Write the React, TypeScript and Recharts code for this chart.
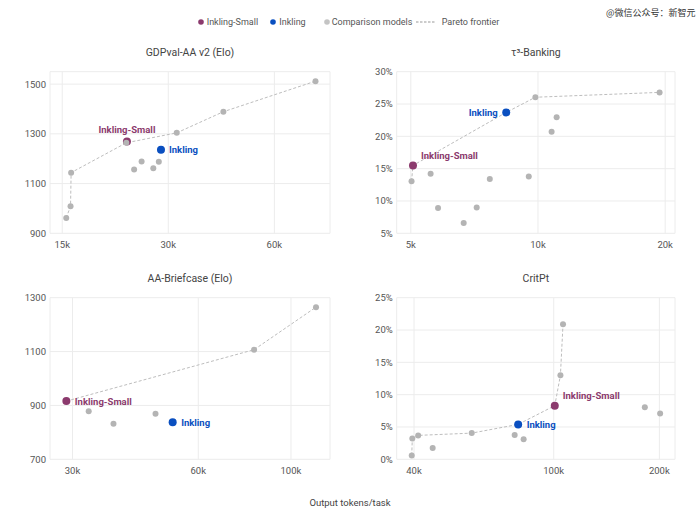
import React from 'react';
import { ScatterChart, Scatter, XAxis, YAxis, CartesianGrid } from 'recharts';

const FONT = 'Roboto, "Noto Sans", sans-serif';
const C_SMALL = '#8b3a6d';
const C_INK = '#0a4fc0';
const C_GRAY = '#b4b4b4';
const C_FRONT = '#bdbdbd';
const C_TEXT = '#555555';
const C_GRID = '#ececec';

// ---- GDPval-AA v2 (Elo)
const gdpSmall = [{ x: 22900, y: 1269 }];
const gdpInkling = [{ x: 28600, y: 1236 }];
const gdpOthers = [
  { x: 15400, y: 962 },
  { x: 15840, y: 1009 },
  { x: 15900, y: 1144 },
  { x: 22800, y: 1264 },
  { x: 24000, y: 1157 },
  { x: 25200, y: 1189 },
  { x: 27200, y: 1162 },
  { x: 28200, y: 1188 },
  { x: 31700, y: 1304 },
  { x: 43000, y: 1389 },
  { x: 78500, y: 1512 },
];
const gdpFrontier = [
  { x: 15400, y: 962 },
  { x: 15840, y: 1009 },
  { x: 15900, y: 1144 },
  { x: 22800, y: 1264 },
  { x: 31700, y: 1304 },
  { x: 43000, y: 1389 },
  { x: 78500, y: 1512 },
];
const gdpXTicks = [15000, 30000, 60000];
const gdpYTicks = [900, 1100, 1300, 1500];

// ---- τ³-Banking (%)
const bankSmall = [{ x: 5060, y: 15.5 }];
const bankInkling = [{ x: 8410, y: 23.7 }];
const bankOthers = [
  { x: 5020, y: 13.05 },
  { x: 5570, y: 14.2 },
  { x: 5800, y: 8.9 },
  { x: 6670, y: 6.6 },
  { x: 7160, y: 9.0 },
  { x: 7690, y: 13.4 },
  { x: 9510, y: 13.8 },
  { x: 9860, y: 26.05 },
  { x: 10770, y: 20.7 },
  { x: 11070, y: 22.95 },
  { x: 19400, y: 26.8 },
];
const bankFrontier = [
  { x: 5020, y: 13.05 },
  { x: 5060, y: 15.5 },
  { x: 8410, y: 23.7 },
  { x: 9860, y: 26.05 },
  { x: 19400, y: 26.8 },
];
const bankXTicks = [5000, 10000, 20000];
const bankYTicks = [5, 10, 15, 20, 25, 30];

// ---- AA-Briefcase (Elo)
const briefSmall = [{ x: 29000, y: 916 }];
const briefInkling = [{ x: 52100, y: 838 }];
const briefOthers = [
  { x: 32800, y: 878 },
  { x: 37600, y: 832 },
  { x: 47400, y: 869 },
  { x: 81600, y: 1107 },
  { x: 114800, y: 1265 },
];
const briefFrontier = [
  { x: 29000, y: 916 },
  { x: 81600, y: 1107 },
  { x: 114800, y: 1265 },
];
const briefXTicks = [30000, 60000, 100000];
const briefYTicks = [700, 900, 1100, 1300];

// ---- CritPt (%)
const critSmall = [{ x: 100700, y: 8.3 }];
const critInkling = [{ x: 79200, y: 5.4 }];
const critOthers = [
  { x: 39400, y: 0.6 },
  { x: 39550, y: 3.2 },
  { x: 41100, y: 3.7 },
  { x: 45200, y: 1.75 },
  { x: 58400, y: 4.05 },
  { x: 77400, y: 3.75 },
  { x: 82100, y: 3.1 },
  { x: 104500, y: 13.0 },
  { x: 106300, y: 20.9 },
  { x: 181800, y: 8.05 },
  { x: 201000, y: 7.1 },
];
const critFrontier = [
  { x: 39400, y: 0.6 },
  { x: 39550, y: 3.2 },
  { x: 41100, y: 3.7 },
  { x: 58400, y: 4.05 },
  { x: 79200, y: 5.4 },
  { x: 100700, y: 8.3 },
  { x: 104500, y: 13.0 },
  { x: 106300, y: 20.9 },
];
const critXTicks = [40000, 100000, 200000];
const critYTicks = [0, 5, 10, 15, 20, 25];

// ---- legend
const legendLabels = ['Inkling-Small', 'Inkling', 'Comparison models', 'Pareto frontier'];

type Pt = { x: number; y: number };
type LabelCfg = { dx: number; dy: number; anchor: 'start' | 'middle' | 'end' };

const kFmt = (v: number) => `${Math.round(v / 1000)}k`;
const pctFmt = (v: number) => `${v}%`;
const numFmt = (v: number) => `${v}`;

const grayShape = (p: any) => <circle cx={p.cx} cy={p.cy} r={3} fill={C_GRAY} />;
const emptyShape = () => <g />;
const makeHighlight = (color: string, label: string, cfg: LabelCfg) => (p: any) => (
  <g>
    <circle cx={p.cx} cy={p.cy} r={4} fill={color} />
    <text
      x={p.cx + cfg.dx}
      y={p.cy + cfg.dy}
      textAnchor={cfg.anchor}
      dominantBaseline="central"
      fill={color}
      fontSize={9.5}
      fontWeight={700}
      fontFamily={FONT}
    >
      {label}
    </text>
  </g>
);

type PanelProps = {
  title: React.ReactNode;
  left: number;
  top: number;
  marginLeft: number;
  marginRight: number;
  xDomain: [number, number];
  yDomain: [number, number];
  xTicks: number[];
  yTicks: number[];
  yFmt: (v: number) => string;
  small: Pt[];
  inkling: Pt[];
  others: Pt[];
  frontier: Pt[];
  smallLabel: LabelCfg;
  inkLabel: LabelCfg;
};

function Panel(props: PanelProps) {
  const W = 350;
  const H = 200;
  const plotLeft = props.marginLeft + 40;
  const plotRight = W - props.marginRight;
  const tick = { fill: C_TEXT, fontSize: 9.5, fontFamily: FONT };
  return (
    <div style={{ position: 'absolute', left: props.left, top: props.top, width: W, height: H }}>
      <div
        style={{
          position: 'absolute',
          left: plotLeft,
          width: plotRight - plotLeft,
          top: -14,
          height: 14,
          lineHeight: '14px',
          textAlign: 'center',
          fontFamily: FONT,
          fontSize: 10.5,
          color: '#444',
        }}
      >
        {props.title}
      </div>
      <ScatterChart
        width={W}
        height={H}
        margin={{ top: 11.7, right: props.marginRight, bottom: 0, left: props.marginLeft }}
      >
        <CartesianGrid stroke={C_GRID} strokeWidth={1} />
        <XAxis
          type="number"
          dataKey="x"
          scale="log"
          domain={props.xDomain}
          ticks={props.xTicks}
          tickFormatter={kFmt}
          allowDataOverflow
          axisLine={false}
          tickLine={false}
          tickSize={6}
          tickMargin={2}
          height={26.7}
          tick={tick}
        />
        <YAxis
          type="number"
          dataKey="y"
          domain={props.yDomain}
          ticks={props.yTicks}
          tickFormatter={props.yFmt}
          allowDataOverflow
          axisLine={false}
          tickLine={false}
          tickSize={0}
          tickMargin={4}
          width={40}
          tick={tick}
        />
        <Scatter
          data={props.frontier}
          shape={emptyShape}
          line={{ stroke: C_FRONT, strokeDasharray: '3 2', strokeWidth: 1 }}
          isAnimationActive={false}
        />
        <Scatter
          data={props.small}
          shape={makeHighlight(C_SMALL, 'Inkling-Small', props.smallLabel)}
          isAnimationActive={false}
        />
        <Scatter
          data={props.inkling}
          shape={makeHighlight(C_INK, 'Inkling', props.inkLabel)}
          isAnimationActive={false}
        />
        <Scatter data={props.others} shape={grayShape} isAnimationActive={false} />
      </ScatterChart>
    </div>
  );
}

function LegendDot({ cx, color }: { cx: number; color: string }) {
  return (
    <svg width={6} height={6} style={{ position: 'absolute', left: cx - 3, top: 18.7 }}>
      <circle cx={3} cy={3} r={2.8} fill={color} />
    </svg>
  );
}

function LegendText({ x, label }: { x: number; label: string }) {
  return (
    <div
      style={{
        position: 'absolute',
        left: x,
        top: 15.7,
        height: 12,
        lineHeight: '12px',
        fontSize: 9,
        color: C_TEXT,
        whiteSpace: 'nowrap',
      }}
    >
      {label}
    </div>
  );
}

export default function App() {
  return (
    <div
      style={{
        position: 'absolute',
        left: 0,
        top: 0,
        width: 700,
        height: 512,
        background: '#fff',
        fontFamily: FONT,
        overflow: 'hidden',
      }}
    >
      <div
        style={{
          position: 'absolute',
          left: 606,
          top: 6,
          fontSize: 9,
          color: '#333',
          fontFamily: '"Noto Sans CJK SC", sans-serif',
          whiteSpace: 'nowrap',
        }}
      >
        @微信公众号：新智元
      </div>

      <LegendDot cx={201} color={C_SMALL} />
      <LegendText x={206.7} label={legendLabels[0]} />
      <LegendDot cx={273.3} color={C_INK} />
      <LegendText x={279.3} label={legendLabels[1]} />
      <LegendDot cx={326.7} color={'#c4c4c4'} />
      <LegendText x={331.7} label={legendLabels[2]} />
      <svg width={20} height={6} style={{ position: 'absolute', left: 416, top: 18.7 }}>
        <line x1={0} y1={3} x2={19} y2={3} stroke="#999" strokeDasharray="2.5 1.5" strokeWidth={1} />
      </svg>
      <LegendText x={441.7} label={legendLabels[3]} />

      <Panel
        title="GDPval-AA v2 (Elo)"
        left={0}
        top={60}
        marginLeft={10}
        marginRight={20}
        xDomain={[13850, 86300]}
        yDomain={[900, 1550]}
        xTicks={gdpXTicks}
        yTicks={gdpYTicks}
        yFmt={numFmt}
        small={gdpSmall}
        inkling={gdpInkling}
        others={gdpOthers}
        frontier={gdpFrontier}
        smallLabel={{ dx: 0, dy: -12, anchor: 'middle' }}
        inkLabel={{ dx: 8, dy: 0, anchor: 'start' }}
      />
      <Panel
        title="τ³-Banking"
        left={350}
        top={60}
        marginLeft={6.7}
        marginRight={25}
        xDomain={[4630, 21100]}
        yDomain={[5, 30]}
        xTicks={bankXTicks}
        yTicks={bankYTicks}
        yFmt={pctFmt}
        small={bankSmall}
        inkling={bankInkling}
        others={bankOthers}
        frontier={bankFrontier}
        smallLabel={{ dx: 8, dy: -10, anchor: 'start' }}
        inkLabel={{ dx: -8.5, dy: 0, anchor: 'end' }}
      />
      <Panel
        title="AA-Briefcase (Elo)"
        left={0}
        top={286}
        marginLeft={10}
        marginRight={20}
        xDomain={[26500, 124000]}
        yDomain={[700, 1300]}
        xTicks={briefXTicks}
        yTicks={briefYTicks}
        yFmt={numFmt}
        small={briefSmall}
        inkling={briefInkling}
        others={briefOthers}
        frontier={briefFrontier}
        smallLabel={{ dx: 8.5, dy: 0, anchor: 'start' }}
        inkLabel={{ dx: 8.5, dy: 0, anchor: 'start' }}
      />
      <Panel
        title="CritPt"
        left={350}
        top={286}
        marginLeft={6.7}
        marginRight={25}
        xDomain={[35700, 221600]}
        yDomain={[0, 25]}
        xTicks={critXTicks}
        yTicks={critYTicks}
        yFmt={pctFmt}
        small={critSmall}
        inkling={critInkling}
        others={critOthers}
        frontier={critFrontier}
        smallLabel={{ dx: 8, dy: -10, anchor: 'start' }}
        inkLabel={{ dx: 8.5, dy: 0, anchor: 'start' }}
      />

      <div
        style={{
          position: 'absolute',
          left: 0,
          width: 700,
          top: 496,
          height: 14,
          lineHeight: '14px',
          textAlign: 'center',
          fontSize: 9.5,
          color: '#444',
        }}
      >
        Output tokens/task
      </div>
    </div>
  );
}
